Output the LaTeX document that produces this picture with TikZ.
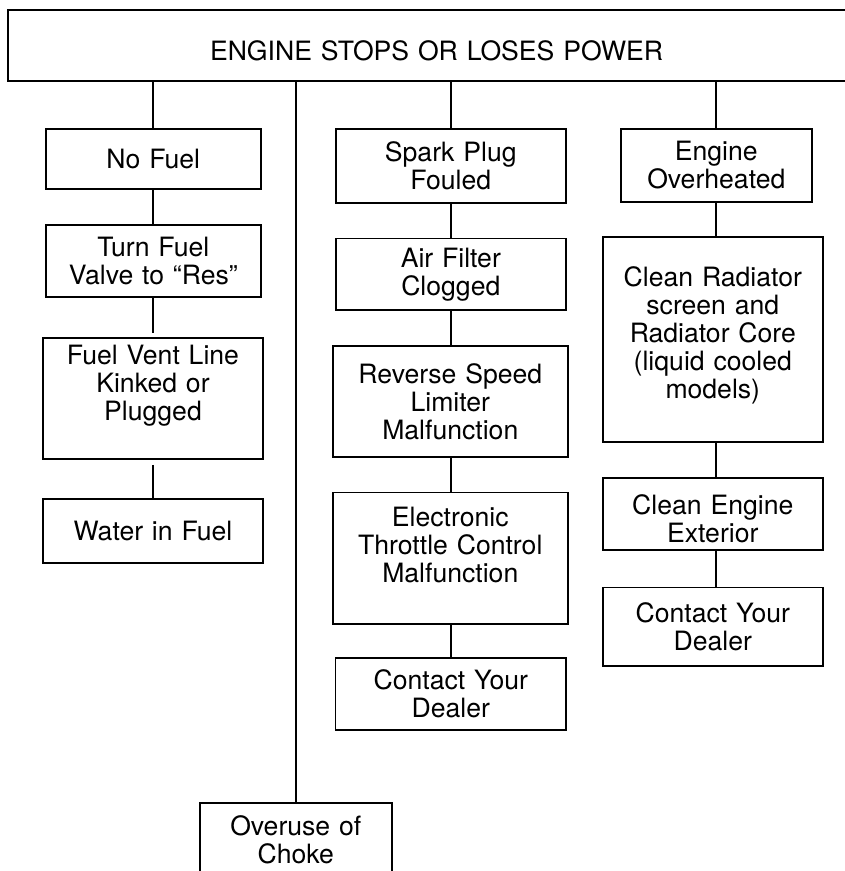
\documentclass[tikz,border=0pt]{standalone}
\usepackage{fontspec}
\setmainfont{TeX Gyre Heros}
\begin{document}
\begin{tikzpicture}[x=1pt, y=-1pt,
        box/.style={draw, line width=1.8pt, anchor=north, align=center, inner sep=0pt,
            font=\fontsize{26.6}{28}\selectfont},
        link/.style={line width=1.8pt}]
    \useasboundingbox (0,0) rectangle (845,871);
    \clip (0,0) rectangle (845,871);
    % Title box (runs off the right edge)
    \node[box, text width=856.7pt, text height=50.5pt, text depth=20.5pt] (top) at (436.6,9) {ENGINE STOPS OR LOSES POWER};
    % Fuel column
    \node[box, text width=215pt, minimum height=59.7pt] (nofuel) at (153.3,128.3) {No Fuel};
    \node[box, text width=215pt, minimum height=72pt] (valve) at (153.3,224) {Turn Fuel\\Valve to “Res”};
    \node[box, text width=220.6pt, text height=27pt, text depth=94pt] (vent) at (153,337) {Fuel Vent Line\\Kinked or\\Plugged};
    \node[box, text width=220.3pt, minimum height=64pt] (water) at (153,498) {Water in Fuel};
    % Choke (cut off at the bottom)
    \node[box, text width=191.7pt, text height=33pt, text depth=80pt] (choke) at (295.8,802) {Overuse of\\Choke};
    % Ignition / air column
    \node[box, text width=230.3pt, minimum height=74.3pt] (spark) at (450.8,127.7) {Spark Plug\\Fouled};
    \node[box, text width=230.3pt, minimum height=71.7pt] (filter) at (450.8,237.6) {Air Filter\\Clogged};
    \node[box, text width=234.7pt, minimum height=110.5pt] (limiter) at (450.3,345.2) {Reverse Speed\\Limiter\\Malfunction};
    \node[box, text width=234.7pt, text height=34.5pt, text depth=97pt] (throttle) at (450.3,491.5) {Electronic\\Throttle Control\\Malfunction};
    \node[box, text width=230.5pt, minimum height=72pt] (dealerA) at (450.8,657) {Contact Your\\Dealer};
    % Cooling column
    \node[box, text width=191.3pt, minimum height=73.3pt] (overheat) at (716.3,127.7) {Engine\\Overheated};
    \node[box, text width=220.3pt, text height=49.7pt, text depth=155.3pt] (radiator) at (712.8,236) {Clean Radiator\\screen and\\Radiator Core\\(liquid cooled\\models)};
    \node[box, text width=220.3pt, text height=37pt, text depth=35pt] (exterior) at (712.8,477) {Clean Engine\\Exterior};
    \node[box, text width=220.3pt, minimum height=78.5pt] (dealerB) at (712.8,586.5) {Contact Your\\Dealer};
    % Links
    \foreach \n in {nofuel, choke, spark, overheat}
        \draw[link] (\n.north |- top.south) -- (\n.north);
    \foreach \a/\b/\c in {nofuel/valve/nofuel, spark/filter/spark, filter/limiter/spark,
            limiter/throttle/spark, throttle/dealerA/spark, overheat/radiator/overheat,
            radiator/exterior/overheat, exterior/dealerB/overheat}
        \draw[link] (\a.south -| \c) -- (\b.north -| \c);
    \draw[link, shorten >=4pt] (valve.south -| nofuel) -- (vent.north -| nofuel);
    \draw[link, shorten <=5pt] (vent.south -| nofuel) -- (water.north -| nofuel);
\end{tikzpicture}
\end{document}
